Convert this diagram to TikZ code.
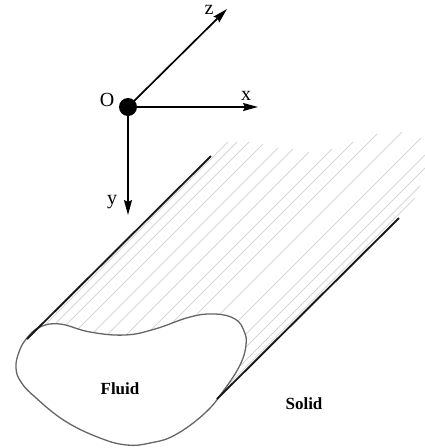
\documentclass[tikz,border=0pt]{standalone}
\usepackage{fontspec}
\setmainfont{Liberation Serif}
\usetikzlibrary{arrows.meta}
\tikzset{
  axis/.style={line width=1.7pt,black,-{Stealth[length=15pt,width=8pt,inset=2pt]}},
  wall/.style={line width=1.9pt,black!90},
  streak/.style={line width=1pt,black!16},
  outline/.style={line width=1.3pt,black!60},
  axlabel/.style={inner sep=0pt,font=\fontsize{20}{20}\selectfont},
  medium/.style={inner sep=0pt,font=\fontsize{17}{18}\selectfont\bfseries}
}
\begin{document}
\begin{tikzpicture}[x=1pt,y=-1pt]
\useasboundingbox (0,0) rectangle (425,448);
% streaks
\foreach \tx/\ty/\bx in {228/142/32,237/142/43,249/142/54,263/144/68,278/148/84,293/149/98,309/152/114,332/149/135,353/142/153,377/134/183,402/132/208,421/138/226,425/155/233,425/168/227,420/186/214,415/198/214}{
  \pgfmathsetmacro{\by}{\ty+\tx-\bx}
  \draw[streak] (\tx,\ty) -- (\bx,\by);
}
% fluid section
\draw[outline,fill=white] plot[smooth cycle,tension=0.7] coordinates {
 (27,338) (40,327) (60,324) (90,332) (125,335) (155,329) (190,317) (215,314)
 (235,319) (244,331) (246,345) (240,365) (224,390) (205,413) (175,435)
 (150,443) (127,445) (100,438) (65,421) (35,397) (21,382) (16,368) (19,352)};
% walls
\coordinate (wa1) at (27,339); \coordinate (wa2) at (211,156);
\coordinate (wb1) at (217,399); \coordinate (wb2) at (399,218);
\draw[wall] (wa1) -- (wa2);
\draw[wall] (wb1) -- (wb2);
% axes
\node[circle,fill=black,minimum size=18pt,inner sep=0pt] (O) at (128,107) {};
\coordinate (xt) at (258,107);
\coordinate (yt) at (128,215);
\coordinate (zt) at (227,9);
\draw[axis] (O.center) -- (xt);
\draw[axis] (O.center) -- (yt);
\draw[axis] (O.center) -- (zt);
\node[axlabel] (lo) at (107,100) {O};
\node[axlabel] (lx) at (246,96) {x};
\node[axlabel] (ly) at (112,202) {y};
\node[axlabel] (lz) at (209,10) {z};
\node[medium] (fluid) at (120,389) {Fluid};
\node[medium] (solid) at (304,404) {Solid};
\end{tikzpicture}
\end{document}
